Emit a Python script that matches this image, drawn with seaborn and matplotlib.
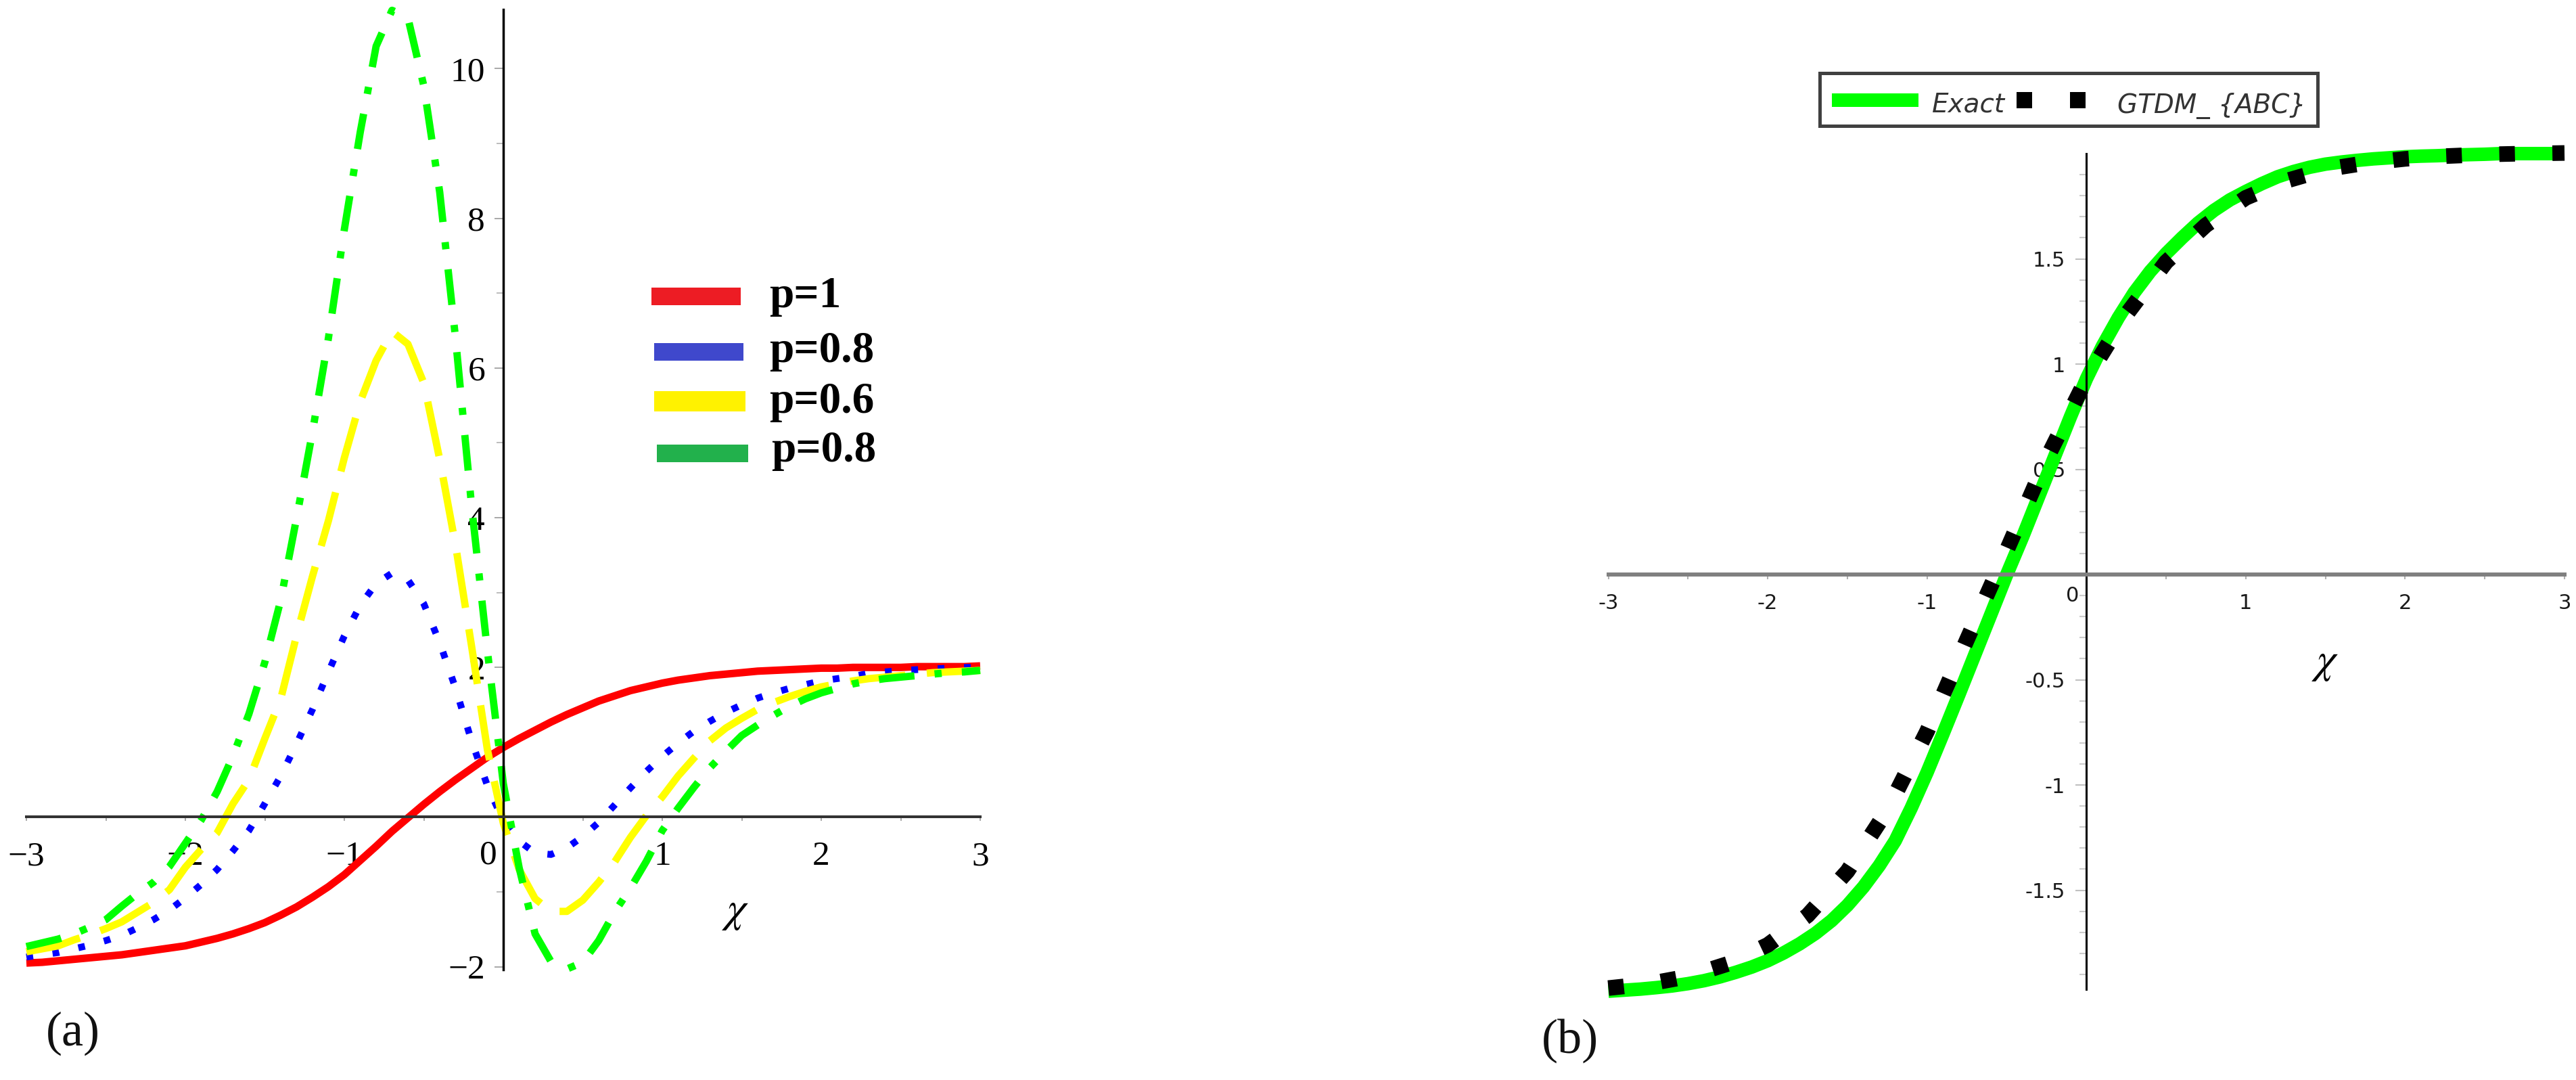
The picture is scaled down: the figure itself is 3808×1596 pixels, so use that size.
import numpy as np
import matplotlib
matplotlib.use("Agg")
import matplotlib.pyplot as plt
import seaborn as sns
from matplotlib.patches import Rectangle
from matplotlib.lines import Line2D
from matplotlib.ticker import FixedLocator, FixedFormatter

sns.set_style("white")
plt.rcParams['font.family'] = ['Liberation Serif', 'DejaVu Sans']
plt.rcParams['lines.scale_dashes'] = False
plt.rcParams['axes.unicode_minus'] = True
plt.rcParams['mathtext.fontset'] = 'stix'

# ---------------- data, panel (a) ----------------
chi_a = np.round(np.linspace(-3.0, 3.0, 61), 2)

u_p1 = [-1.95, -1.94, -1.92, -1.90, -1.88, -1.86, -1.84, -1.81, -1.78, -1.75,
        -1.72, -1.67, -1.62, -1.56, -1.49, -1.41, -1.31, -1.20, -1.07, -0.93,
        -0.77, -0.58, -0.39, -0.19, -0.01, 0.17, 0.34, 0.50, 0.65, 0.80,
        0.93,
        1.05, 1.16, 1.27, 1.37, 1.46, 1.55, 1.62, 1.69, 1.74, 1.79,
        1.83, 1.86, 1.89, 1.91, 1.93, 1.95, 1.96, 1.97, 1.98, 1.99,
        1.99, 2.00, 2.00, 2.00, 2.00, 2.01, 2.01, 2.01, 2.01, 2.02]

u_p08 = [-1.87, -1.84, -1.81, -1.76, -1.71, -1.65, -1.58, -1.48, -1.37, -1.24,
         -1.08, -0.90, -0.70, -0.45, -0.18, 0.18, 0.55, 0.98, 1.44, 1.94,
         2.42, 2.83, 3.12, 3.26, 3.17, 2.85, 2.33, 1.72, 1.02, 0.42,
         -0.05,
         -0.32, -0.48, -0.50, -0.41, -0.26, -0.07, 0.16, 0.39, 0.61, 0.81,
         0.99, 1.15, 1.28, 1.40, 1.50, 1.59, 1.66, 1.72, 1.77, 1.82,
         1.85, 1.88, 1.92, 1.94, 1.96, 1.97, 1.98, 1.99, 2.00, 2.00]

u_p06 = [-1.80, -1.76, -1.72, -1.64, -1.57, -1.49, -1.40, -1.27, -1.14, -0.97,
         -0.67, -0.43, -0.21, 0.18, 0.50, 1.05, 1.58, 2.43, 3.22, 3.96,
         4.80, 5.55, 6.10, 6.49, 6.32, 5.80, 4.78, 3.63, 2.29, 0.90,
         -0.08,
         -0.70, -1.09, -1.26, -1.26, -1.11, -0.87, -0.60, -0.27, 0.02, 0.27,
         0.55, 0.79, 1.02, 1.19, 1.32, 1.44, 1.53, 1.61, 1.68, 1.74,
         1.78, 1.82, 1.85, 1.87, 1.89, 1.91, 1.93, 1.94, 1.95, 1.96]

u_p08b = [-1.73, -1.68, -1.63, -1.56, -1.47, -1.37, -1.19, -1.02, -0.87, -0.66,
          -0.35, -0.04, 0.34, 0.82, 1.38, 2.07, 2.90, 4.00, 5.15, 6.40,
          7.85, 9.15, 10.30, 10.78, 10.68, 9.77, 8.35, 6.39, 4.17, 2.22,
          0.45,
          -0.68, -1.56, -1.93, -2.03, -1.94, -1.65, -1.27, -0.95, -0.59, -0.18,
          0.12, 0.40, 0.66, 0.88, 1.09, 1.23, 1.36, 1.48, 1.58, 1.66,
          1.72, 1.78, 1.82, 1.85, 1.87, 1.89, 1.91, 1.93, 1.94, 1.96]

legend_a = ["p=1", "p=0.8", "p=0.6", "p=0.8"]

# ---------------- data, panel (b) ----------------
chi_exact = np.round(np.linspace(-3.0, 3.0, 61), 2)
u_exact = [-1.98, -1.975, -1.97, -1.963, -1.955, -1.944, -1.93, -1.912, -1.89, -1.865,
           -1.835, -1.798, -1.755, -1.705, -1.645, -1.572, -1.485, -1.383, -1.265, -1.11,
           -0.94, -0.757, -0.57, -0.38, -0.19, 0.0, 0.18, 0.37, 0.56, 0.75,
           0.93,
           1.085, 1.22, 1.34, 1.44, 1.525, 1.60, 1.67, 1.73, 1.78, 1.82,
           1.857, 1.89, 1.915, 1.935, 1.95, 1.96, 1.968, 1.975, 1.98, 1.985,
           1.988, 1.99, 1.993, 1.995, 1.997, 2.0, 2.0, 2.0, 2.0, 2.0]

chi_gtdm = np.round(np.linspace(-3.0, 3.0, 25), 3)
u_gtdm = [-1.965, -1.945, -1.91, -1.85, -1.76, -1.62, -1.41, -1.12, -0.745, -0.31,
          0.115, 0.55, 0.93, 1.235, 1.485, 1.66, 1.79, 1.87, 1.925, 1.955,
          1.975, 1.988, 1.996, 2.0, 2.003]

xticks_a = [-3, -2, -1, 1, 2, 3]
xtick_labels_a = ["\u22123", "\u22122", "\u22121", "1", "2", "3"]
yticks_a = [-2, 2, 4, 6, 8, 10]
ytick_labels_a = ["\u22122", "2", "4", "6", "8", "10"]

xticks_b = [-3, -2, -1, 1, 2, 3]
xtick_labels_b = ["-3", "-2", "-1", "1", "2", "3"]
yticks_b = [-1.5, -1, -0.5, 0.5, 1, 1.5]
ytick_labels_b = ["-1.5", "-1", "-0.5", "0.5", "1", "1.5"]

# ---------------- figure ----------------
W, H = 3808, 1596
fig = plt.figure(figsize=(W / 100, H / 100), dpi=100)


def fx(px):
    return px / W


def fy(py):
    return 1 - py / H


# ---------- panel (a) ----------
axa = fig.add_axes([fx(39), fy(1433.1), (1449 - 39) / W, (1433.1 - 14.1) / H])
axa.set_facecolor('none')

styles_a = [
    (u_p1, '#FF0000', 8.0, '-'),
    (u_p08, '#0000FF', 7.2, (0, (7.2, 20.9))),
    (u_p06, '#FFFF00', 7.8, (0, (59.0, 23.0))),
    (u_p08b, '#00FF00', 7.8, (0, (38.0, 21.5, 7.6, 21.5))),
]
for vals, col, lw, ls in styles_a:
    sns.lineplot(x=chi_a, y=vals, ax=axa, color=col, linewidth=lw,
                 estimator=None, sort=False)
    ln = axa.lines[-1]
    ln.set_linestyle(ls)
    ln.set_dash_capstyle('butt')
    ln.set_solid_capstyle('butt')
    ln.set_solid_joinstyle('round')
    ln.set_zorder(3)
    ln.set_clip_on(False)

axa.set_xlim(-3, 3)
axa.set_ylim(-2.04, 10.79)
axa.set_xlabel('')
axa.set_ylabel('')
for s in ['top', 'right']:
    axa.spines[s].set_visible(False)
axa.spines['left'].set_position(('data', 0))
axa.spines['bottom'].set_position(('data', 0))
axa.spines['left'].set_color('black')
axa.spines['left'].set_linewidth(2.5)
axa.spines['bottom'].set_color('#333333')
axa.spines['bottom'].set_linewidth(2.9)
for s in ['left', 'bottom']:
    axa.spines[s].set_zorder(5)

axa.xaxis.set_major_locator(FixedLocator(xticks_a))
axa.xaxis.set_major_formatter(FixedFormatter(xtick_labels_a))
axa.xaxis.set_minor_locator(FixedLocator([-2.5, -1.5, -0.5, 0.5, 1.5, 2.5]))
axa.yaxis.set_major_locator(FixedLocator(yticks_a))
axa.yaxis.set_major_formatter(FixedFormatter(ytick_labels_a))
axa.yaxis.set_minor_locator(FixedLocator([-1, 1, 3, 5, 7, 9]))
axa.tick_params(axis='x', which='both', direction='out', length=4.3, width=1.2,
                color='#9a9a9a', pad=21, labelsize=37, labelcolor='black',
                labelfontfamily='Liberation Serif', bottom=True)
axa.tick_params(axis='y', which='major', direction='out', length=9.4, width=1.2,
                color='#9a9a9a', pad=10, labelsize=37, labelcolor='black',
                labelfontfamily='Liberation Serif', left=True)
axa.tick_params(axis='y', which='minor', direction='out', length=7.5, width=1.2,
                color='#b0b0b0', left=True)
axa.grid(False)
axa.text(-0.094, -0.303, '0', ha='center', va='top', fontsize=37,
         family='Liberation Serif', color='black')
axa.text(1.46, -1.27, r'$\chi$', ha='center', va='center', fontsize=46,
         color='black')

# legend (a), hand-drawn like the original
leg_bars = [((963, 425, 1095, 451), '#ED1C24', 1137, 454),
            ((967, 507, 1099, 533), '#3F48CC', 1137, 535),
            ((967, 578, 1102, 608), '#FFF200', 1137, 610),
            ((971, 657, 1106, 683), '#22B14C', 1140, 682)]
for (x0, y0, x1, y1), col, tx, ty in leg_bars:
    fig.add_artist(Rectangle((fx(x0), fy(y1)), (x1 - x0) / W, (y1 - y0) / H,
                             transform=fig.transFigure, facecolor=col,
                             edgecolor='none'))
for (box, col, tx, ty), lab in zip(leg_bars, legend_a):
    fig.text(fx(tx), fy(ty), lab, fontsize=47, fontweight='bold',
             family='Liberation Serif', ha='left', va='baseline', color='black')

fig.text(fx(108), fy(1527), '(a)', fontsize=52, family='Liberation Serif',
         ha='center', va='center', color='#111111')

# ---------- panel (b) ----------
axb = fig.add_axes([fx(2377.6), fy(1461.7), (3791 - 2377.6) / W, (1461.7 - 227) / H])
axb.set_facecolor('none')
sns.lineplot(x=chi_exact, y=u_exact, ax=axb, color='#00FF00', linewidth=14.4,
             estimator=None, sort=False)
ln = axb.lines[-1]
ln.set_solid_capstyle('butt')
ln.set_solid_joinstyle('round')
ln.set_zorder(3)
ln.set_clip_on(False)
sns.lineplot(x=chi_gtdm, y=u_gtdm, ax=axb, color='black', linewidth=16.6,
             estimator=None, sort=False)
ln = axb.lines[-1]
ln.set_linestyle((0, (16.6, 39.9)))
ln.set_dash_capstyle('butt')
ln.set_zorder(3.5)
ln.set_clip_on(False)

axb.set_xlim(-3, 3)
axb.set_ylim(-1.97, 2.0)
axb.set_xlabel('')
axb.set_ylabel('')
for s in ['top', 'right']:
    axb.spines[s].set_visible(False)
axb.spines['left'].set_position(('data', 0))
axb.spines['bottom'].set_position(('data', 0))
axb.spines['left'].set_color('black')
axb.spines['left'].set_linewidth(2.2)
axb.spines['bottom'].set_color('#808080')
axb.spines['bottom'].set_linewidth(4.3)
for s in ['left', 'bottom']:
    axb.spines[s].set_zorder(5)

axb.xaxis.set_major_locator(FixedLocator(xticks_b))
axb.xaxis.set_major_formatter(FixedFormatter(xtick_labels_b))
axb.xaxis.set_minor_locator(FixedLocator([-2.5, -1.5, -0.5, 0.5, 1.5, 2.5]))
axb.yaxis.set_major_locator(FixedLocator(yticks_b))
axb.yaxis.set_major_formatter(FixedFormatter(ytick_labels_b))
minor_b = [v / 10 for v in range(-19, 20) if v % 5 != 0]
axb.yaxis.set_minor_locator(FixedLocator(minor_b))
axb.tick_params(axis='x', which='both', direction='out', length=5, width=1.5,
                color='#b0b0b0', pad=15.5, labelsize=22, labelcolor='#1a1a1a',
                labelfontfamily='DejaVu Sans', bottom=True)
axb.tick_params(axis='y', which='major', direction='out', length=11.5, width=1.5,
                color='#c0c0c0', pad=11, labelsize=22, labelcolor='#1a1a1a',
                labelfontfamily='DejaVu Sans', left=True)
axb.tick_params(axis='y', which='minor', direction='out', length=7, width=1.5,
                color='#cccccc', left=True)
axb.grid(False)
axb.text(-0.086, -0.10, '0', ha='center', va='center', fontsize=22,
         family='DejaVu Sans', color='#1a1a1a')
axb.text(1.50, -0.42, r'$\chi$', ha='center', va='center', fontsize=46,
         color='black')

# legend (b)
fig.add_artist(Rectangle((fx(2690), fy(186)), (3426 - 2690) / W, (186 - 108) / H,
                         transform=fig.transFigure, facecolor='white',
                         edgecolor='#404040', linewidth=3.6))
fig.add_artist(Line2D([fx(2708), fx(2836)], [fy(148), fy(148)],
                      transform=fig.transFigure, color='#00FF00', linewidth=14.4,
                      solid_capstyle='butt'))
for cx in (2992, 3071):
    fig.add_artist(Rectangle((fx(cx - 11.5), fy(159.5)), 23 / W, 23 / H,
                             transform=fig.transFigure, facecolor='black',
                             edgecolor='none'))
fig.text(fx(2856), fy(165), 'Exact', fontsize=28, family='DejaVu Sans',
         style='italic', ha='left', va='baseline', color='#333333')
fig.text(fx(3130), fy(167), 'GTDM_ {ABC}', fontsize=28, family='DejaVu Sans',
         style='italic', ha='left', va='baseline', color='#333333')

fig.text(fx(2321), fy(1538), '(b)', fontsize=52, family='Liberation Serif',
         ha='center', va='center', color='#111111')

fig.savefig('out.png', dpi=100)
